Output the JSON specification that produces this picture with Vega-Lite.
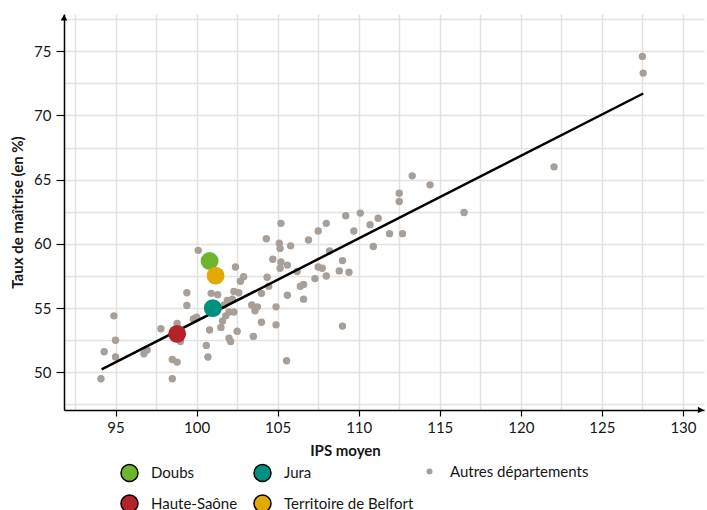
{
  "$schema": "https://vega.github.io/schema/vega-lite/v6.json",
  "width": 640,
  "height": 396,
  "autosize": "none",
  "padding": {"left": 64, "top": 14, "right": 3, "bottom": 100},
  "config": {
    "font": "Lato",
    "view": {"stroke": null},
    "axis": {
      "labelFont": "Lato", "labelFontSize": 15, "labelColor": "#161616",
      "titleFont": "Lato", "titleFontSize": 15, "titleFontWeight": "bold", "titleColor": "#161616",
      "domainColor": "#000000", "domainWidth": 1.5,
      "gridColor": "#e2e2e2", "gridWidth": 1.5,
      "tickWidth": 1.2, "tickSize": 6
    }
  },
  "datasets": {
    "pts": [
      {"ips": 94.1, "taux": 49.5, "dep": "Autres départements"},
      {"ips": 94.3, "taux": 51.6, "dep": "Autres départements"},
      {"ips": 94.9, "taux": 54.4, "dep": "Autres départements"},
      {"ips": 95.0, "taux": 52.5, "dep": "Autres départements"},
      {"ips": 95.0, "taux": 51.2, "dep": "Autres départements"},
      {"ips": 96.75, "taux": 51.45, "dep": "Autres départements"},
      {"ips": 96.95, "taux": 51.75, "dep": "Autres départements"},
      {"ips": 97.8, "taux": 53.4, "dep": "Autres départements"},
      {"ips": 98.5, "taux": 51.0, "dep": "Autres départements"},
      {"ips": 98.8, "taux": 50.8, "dep": "Autres départements"},
      {"ips": 98.5, "taux": 49.5, "dep": "Autres départements"},
      {"ips": 98.8, "taux": 53.8, "dep": "Autres départements"},
      {"ips": 99.0, "taux": 52.4, "dep": "Autres départements"},
      {"ips": 99.4, "taux": 56.2, "dep": "Autres départements"},
      {"ips": 99.4, "taux": 55.2, "dep": "Autres départements"},
      {"ips": 99.8, "taux": 54.15, "dep": "Autres départements"},
      {"ips": 100.0, "taux": 54.3, "dep": "Autres départements"},
      {"ips": 100.1, "taux": 59.5, "dep": "Autres départements"},
      {"ips": 100.6, "taux": 52.1, "dep": "Autres départements"},
      {"ips": 100.7, "taux": 51.2, "dep": "Autres départements"},
      {"ips": 100.8, "taux": 53.3, "dep": "Autres départements"},
      {"ips": 100.9, "taux": 56.15, "dep": "Autres départements"},
      {"ips": 101.3, "taux": 56.05, "dep": "Autres départements"},
      {"ips": 101.5, "taux": 53.5, "dep": "Autres départements"},
      {"ips": 101.6, "taux": 54.0, "dep": "Autres départements"},
      {"ips": 101.8, "taux": 54.4, "dep": "Autres départements"},
      {"ips": 102.0, "taux": 54.7, "dep": "Autres départements"},
      {"ips": 102.3, "taux": 54.7, "dep": "Autres départements"},
      {"ips": 101.7, "taux": 55.25, "dep": "Autres départements"},
      {"ips": 101.9, "taux": 55.6, "dep": "Autres départements"},
      {"ips": 102.2, "taux": 55.7, "dep": "Autres départements"},
      {"ips": 102.3, "taux": 56.3, "dep": "Autres départements"},
      {"ips": 102.6, "taux": 56.2, "dep": "Autres départements"},
      {"ips": 102.4, "taux": 58.2, "dep": "Autres départements"},
      {"ips": 102.7, "taux": 57.1, "dep": "Autres départements"},
      {"ips": 102.9, "taux": 57.45, "dep": "Autres départements"},
      {"ips": 102.5, "taux": 53.2, "dep": "Autres départements"},
      {"ips": 102.0, "taux": 52.65, "dep": "Autres départements"},
      {"ips": 102.1, "taux": 52.4, "dep": "Autres départements"},
      {"ips": 103.5, "taux": 52.8, "dep": "Autres départements"},
      {"ips": 103.4, "taux": 55.25, "dep": "Autres départements"},
      {"ips": 103.75, "taux": 55.1, "dep": "Autres départements"},
      {"ips": 103.6, "taux": 54.8, "dep": "Autres départements"},
      {"ips": 104.0, "taux": 53.9, "dep": "Autres départements"},
      {"ips": 104.0, "taux": 56.15, "dep": "Autres départements"},
      {"ips": 104.35, "taux": 57.4, "dep": "Autres départements"},
      {"ips": 104.45, "taux": 56.7, "dep": "Autres départements"},
      {"ips": 104.3, "taux": 60.4, "dep": "Autres départements"},
      {"ips": 104.7, "taux": 58.8, "dep": "Autres départements"},
      {"ips": 105.1, "taux": 60.05, "dep": "Autres départements"},
      {"ips": 105.15, "taux": 59.65, "dep": "Autres départements"},
      {"ips": 105.8, "taux": 59.85, "dep": "Autres départements"},
      {"ips": 105.2, "taux": 58.6, "dep": "Autres départements"},
      {"ips": 105.6, "taux": 58.35, "dep": "Autres départements"},
      {"ips": 105.15, "taux": 58.1, "dep": "Autres départements"},
      {"ips": 104.9, "taux": 55.1, "dep": "Autres départements"},
      {"ips": 104.9, "taux": 53.7, "dep": "Autres départements"},
      {"ips": 105.6, "taux": 56.0, "dep": "Autres départements"},
      {"ips": 105.55, "taux": 50.9, "dep": "Autres départements"},
      {"ips": 105.2, "taux": 61.6, "dep": "Autres départements"},
      {"ips": 106.2, "taux": 57.85, "dep": "Autres départements"},
      {"ips": 106.4, "taux": 56.7, "dep": "Autres départements"},
      {"ips": 106.6, "taux": 56.85, "dep": "Autres départements"},
      {"ips": 106.6, "taux": 55.7, "dep": "Autres départements"},
      {"ips": 106.9, "taux": 60.3, "dep": "Autres départements"},
      {"ips": 107.3, "taux": 57.3, "dep": "Autres départements"},
      {"ips": 107.5, "taux": 58.2, "dep": "Autres départements"},
      {"ips": 107.75, "taux": 58.1, "dep": "Autres départements"},
      {"ips": 107.5, "taux": 61.0, "dep": "Autres départements"},
      {"ips": 108.0, "taux": 61.6, "dep": "Autres départements"},
      {"ips": 108.0, "taux": 57.5, "dep": "Autres départements"},
      {"ips": 108.2, "taux": 59.45, "dep": "Autres départements"},
      {"ips": 108.8, "taux": 57.9, "dep": "Autres départements"},
      {"ips": 109.0, "taux": 58.7, "dep": "Autres départements"},
      {"ips": 109.4, "taux": 57.8, "dep": "Autres départements"},
      {"ips": 109.0, "taux": 53.6, "dep": "Autres départements"},
      {"ips": 109.2, "taux": 62.2, "dep": "Autres départements"},
      {"ips": 109.7, "taux": 61.0, "dep": "Autres départements"},
      {"ips": 110.1, "taux": 62.4, "dep": "Autres départements"},
      {"ips": 110.7, "taux": 61.5, "dep": "Autres départements"},
      {"ips": 110.9, "taux": 59.8, "dep": "Autres départements"},
      {"ips": 111.2, "taux": 62.0, "dep": "Autres départements"},
      {"ips": 111.9, "taux": 60.8, "dep": "Autres départements"},
      {"ips": 112.7, "taux": 60.8, "dep": "Autres départements"},
      {"ips": 112.5, "taux": 63.95, "dep": "Autres départements"},
      {"ips": 112.5, "taux": 63.3, "dep": "Autres départements"},
      {"ips": 113.3, "taux": 65.3, "dep": "Autres départements"},
      {"ips": 114.4, "taux": 64.6, "dep": "Autres départements"},
      {"ips": 116.5, "taux": 62.45, "dep": "Autres départements"},
      {"ips": 122.05, "taux": 66.0, "dep": "Autres départements"},
      {"ips": 127.5, "taux": 74.6, "dep": "Autres départements"},
      {"ips": 127.55, "taux": 73.3, "dep": "Autres départements"},
      {"ips": 100.8, "taux": 58.67, "dep": "Doubs"},
      {"ips": 101.0, "taux": 55.0, "dep": "Jura"},
      {"ips": 98.8, "taux": 53.0, "dep": "Haute-Saône"},
      {"ips": 101.17, "taux": 57.53, "dep": "Territoire de Belfort"}
    ],
    "fit": [
      {"ips": 94.14, "taux": 50.23},
      {"ips": 127.55, "taux": 71.71}
    ]
  },
  "encoding": {
    "x": {
      "field": "ips", "type": "quantitative",
      "scale": {"domain": [91.82, 131.3], "nice": false, "zero": false},
      "axis": {
        "title": "IPS moyen",
        "values": [92.5, 95, 97.5, 100, 102.5, 105, 107.5, 110, 112.5, 115, 117.5, 120, 122.5, 125, 127.5, 130],
        "labelExpr": "datum.value % 5 === 0 ? datum.label : ''",
        "tickColor": {"condition": {"test": "datum.value % 5 === 0", "value": "#000000"}, "value": "rgba(0,0,0,0)"},
        "labelPadding": 4,
        "titlePadding": 8,
        "titleX": 281,
        "labelFlush": false
      }
    },
    "y": {
      "field": "taux", "type": "quantitative",
      "scale": {"domain": [47.07, 77.9], "nice": false, "zero": false},
      "axis": {
        "title": "Taux de maîtrise (en %)",
        "values": [47.5, 50, 52.5, 55, 57.5, 60, 62.5, 65, 67.5, 70, 72.5, 75, 77.5],
        "labelExpr": "datum.value % 5 === 0 ? datum.label : ''",
        "tickColor": {"condition": {"test": "datum.value % 5 === 0", "value": "#000000"}, "value": "rgba(0,0,0,0)"},
        "tickSize": 8,
        "labelPadding": 5,
        "titlePadding": 8,
        "labelFlush": false
      }
    }
  },
  "layer": [
    {
      "data": {"name": "pts"},
      "transform": [{"filter": "datum.dep === 'Autres départements'"}],
      "mark": {"type": "point", "filled": true, "opacity": 1, "size": 55, "color": "#a89f99"},
      "encoding": {
        "shape": {
          "field": "dep", "type": "nominal",
          "scale": {"domain": ["Autres départements"], "range": ["circle"]},
          "legend": {
            "orient": "none", "legendX": 358, "legendY": 450,
            "title": null,
            "labelFont": "Lato", "labelFontSize": 15, "labelColor": "#161616",
            "symbolFillColor": "#a89f99",
            "symbolStrokeColor": "#333333", "symbolStrokeWidth": 1.5,
            "symbolOpacity": 1,
            "symbolSize": 36, "labelOffset": 13
          }
        }
      }
    },
    {
      "data": {"name": "fit"},
      "mark": {"type": "line", "color": "#000000", "strokeWidth": 2.5},
      "encoding": {}
    },
    {
      "data": {"name": "pts"},
      "transform": [{"filter": "datum.dep !== 'Autres départements'"}],
      "mark": {"type": "circle", "opacity": 1, "size": 320},
      "encoding": {
        "color": {
          "field": "dep", "type": "nominal",
          "scale": {
            "domain": ["Doubs", "Jura", "Haute-Saône", "Territoire de Belfort"],
            "range": ["#6cb52d", "#009081", "#b5232a", "#e2a900"]
          },
          "legend": {
            "orient": "none", "legendX": 56, "legendY": 449,
            "columns": 2, "direction": "horizontal", "title": null,
            "labelFont": "Lato", "labelFontSize": 15, "labelColor": "#161616",
            "symbolStrokeColor": "#000000", "symbolStrokeWidth": 1.5,
            "symbolType": "circle", "symbolSize": 290,
            "columnPadding": 12, "rowPadding": 6, "labelOffset": 12
          }
        }
      }
    },
    {
      "data": {"values": [{"ax": 91.82, "ay": 77.62}]},
      "mark": {"type": "point", "filled": true, "color": "#000000", "opacity": 1, "size": 45, "shape": "triangle-up"},
      "encoding": {
        "x": {"field": "ax", "type": "quantitative"},
        "y": {"field": "ay", "type": "quantitative"}
      }
    },
    {
      "data": {"values": [{"ax": 131.1, "ay": 47.07}]},
      "mark": {"type": "point", "filled": true, "color": "#000000", "opacity": 1, "size": 45, "shape": "triangle-right"},
      "encoding": {
        "x": {"field": "ax", "type": "quantitative"},
        "y": {"field": "ay", "type": "quantitative"}
      }
    }
  ]
}
